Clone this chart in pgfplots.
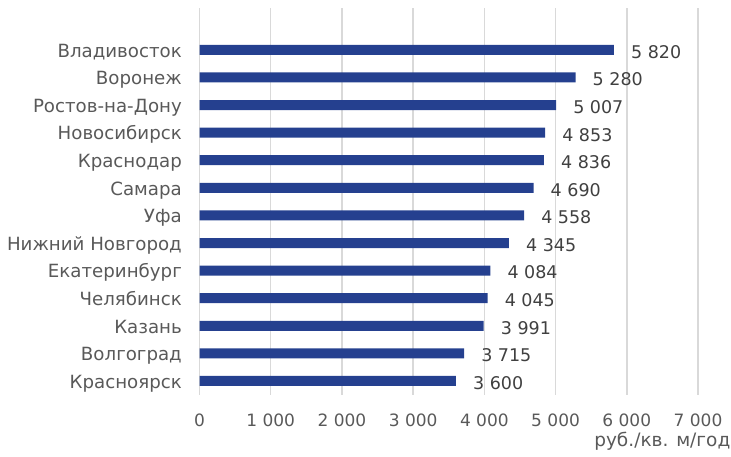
\documentclass[border=0pt]{standalone}
\usepackage{pgfplots}
\pgfplotsset{compat=1.18}
\usepackage{fontspec}
\setmainfont{DejaVu Sans}
\definecolor{barblue}{RGB}{37,64,143}
\definecolor{txt}{RGB}{89,89,89}
\definecolor{vtxt}{RGB}{64,64,64}
\definecolor{gridc}{RGB}{217,217,217}
\begin{document}
\begin{tikzpicture}[x=1bp,y=1bp]
\useasboundingbox (0,0) rectangle (731,457);
\begin{axis}[
  at={(199.5bp,62bp)}, anchor=south west,
  scale only axis, width=498.5bp, height=386.5bp,
  xbar, bar width=10bp,
  xmin=0, xmax=7000, ymin=-0.508, ymax=13.5,
  xtick={0,1000,2000,3000,4000,5000,6000,7000},
  xticklabels={0,1 000,2 000,3 000,4 000,5 000,6 000,7 000},
  ytick={0,1,2,3,4,5,6,7,8,9,10,11,12},
  yticklabels={Красноярск,Волгоград,Казань,Челябинск,Екатеринбург,Нижний Новгород,Уфа,Самара,Краснодар,Новосибирск,Ростов-на-Дону,Воронеж,Владивосток},
  axis line style={draw=none}, major tick length=0pt,
  xmajorgrids, ymajorgrids=false,
  grid style={draw=gridc, line width=1.5bp},
  tick label style={font=\fontsize{17bp}{20bp}\selectfont, text=txt},
  xticklabel style={anchor=base, inner sep=0pt, yshift=-32bp},
  yticklabel style={anchor=base east, inner sep=0pt, xshift=-17.5bp, yshift=-7.3bp, font=\fontsize{18.2bp}{20bp}\selectfont},
  point meta=explicit symbolic,
  nodes near coords,
  every node near coord/.append style={anchor=west, inner sep=0pt, xshift=17bp, yshift=-2bp, font=\fontsize{17.5bp}{20bp}\selectfont, text=vtxt},
  clip=false,
]
\addplot[fill=barblue, draw=none] coordinates {
  (3600,0) [3 600]
  (3715,1) [3 715]
  (3991,2) [3 991]
  (4045,3) [4 045]
  (4084,4) [4 084]
  (4345,5) [4 345]
  (4558,6) [4 558]
  (4690,7) [4 690]
  (4836,8) [4 836]
  (4853,9) [4 853]
  (5007,10) [5 007]
  (5280,11) [5 280]
  (5820,12) [5 820]
};
\end{axis}
\node[anchor=base east, inner sep=0pt, font=\fontsize{18.5bp}{20bp}\selectfont, text=txt] at (730.5,10.5) {руб./кв. м/год};
\end{tikzpicture}
\end{document}
